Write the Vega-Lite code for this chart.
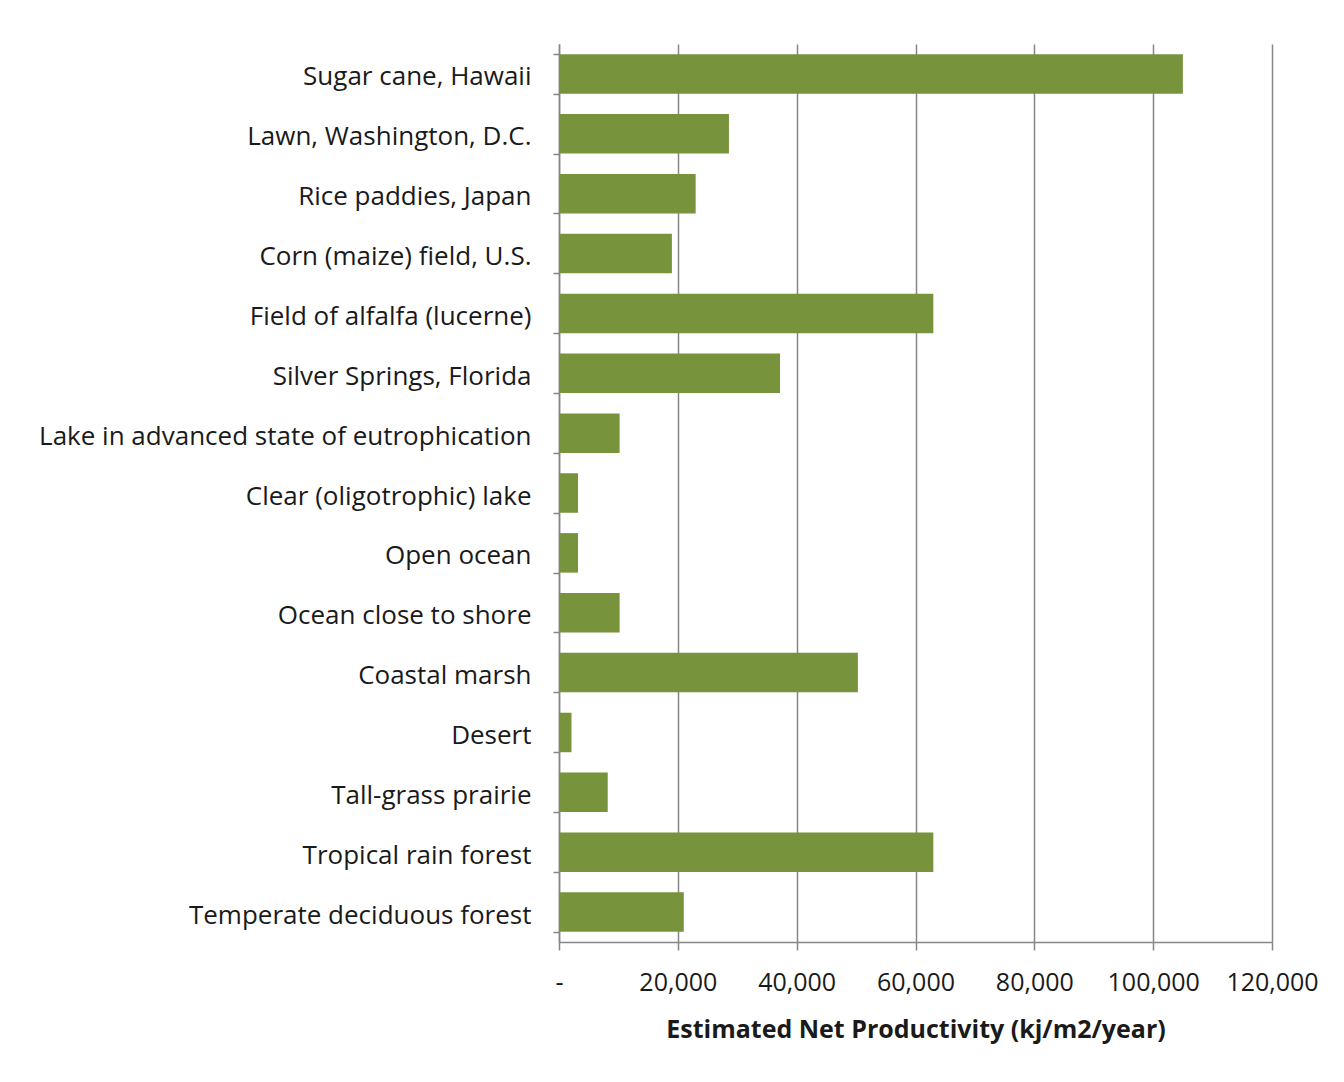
{
  "$schema": "https://vega.github.io/schema/vega-lite/v6.json",
  "width": 713,
  "height": 898,
  "autosize": {"type": "none"},
  "padding": {"left": 559, "top": 44, "right": 72, "bottom": 140},
  "background": "white",
  "config": {
    "view": {"stroke": null},
    "font": "Open Sans"
  },
  "data": {
    "values": [
      {"site": "Sugar cane, Hawaii", "productivity": 105000},
      {"site": "Lawn, Washington, D.C.", "productivity": 28600},
      {"site": "Rice paddies, Japan", "productivity": 23000},
      {"site": "Corn (maize) field, U.S.", "productivity": 19000},
      {"site": "Field of alfalfa (lucerne)", "productivity": 63000},
      {"site": "Silver Springs, Florida", "productivity": 37200},
      {"site": "Lake in advanced state of eutrophication", "productivity": 10200},
      {"site": "Clear (oligotrophic) lake", "productivity": 3200},
      {"site": "Open ocean", "productivity": 3200},
      {"site": "Ocean close to shore", "productivity": 10200},
      {"site": "Coastal marsh", "productivity": 50300},
      {"site": "Desert", "productivity": 2100},
      {"site": "Tall-grass prairie", "productivity": 8200},
      {"site": "Tropical rain forest", "productivity": 63000},
      {"site": "Temperate deciduous forest", "productivity": 21000}
    ]
  },
  "mark": {"type": "bar", "color": "#77933C"},
  "encoding": {
    "y": {
      "field": "site",
      "type": "nominal",
      "sort": null,
      "scale": {"paddingInner": 0.34, "paddingOuter": 0.17},
      "axis": {
        "title": null,
        "domainColor": "#868686",
        "domainWidth": 1.5,
        "tickColor": "#868686",
        "tickWidth": 1.5,
        "tickSize": 6,
        "tickBand": "extent",
        "labelFontSize": 26,
        "labelColor": "#1a1a1a",
        "labelPadding": 22,
        "labelOffset": 3,
        "labelLimit": 600
      }
    },
    "x": {
      "field": "productivity",
      "type": "quantitative",
      "scale": {"domain": [0, 120000], "nice": false},
      "axis": {
        "title": "Estimated Net Productivity (kj/m2/year)",
        "titleFontSize": 25,
        "titleFontWeight": "bold",
        "titleColor": "#1a1a1a",
        "titlePadding": 22,
        "values": [0, 20000, 40000, 60000, 80000, 100000, 120000],
        "labelExpr": "datum.value == 0 ? '-' : format(datum.value, ',')",
        "labelFontSize": 25,
        "labelColor": "#1a1a1a",
        "labelPadding": 20,
        "labelOverlap": false,
        "labelFlush": false,
        "labelBound": false,
        "domainColor": "#868686",
        "domainWidth": 1.5,
        "tickColor": "#868686",
        "tickWidth": 1.5,
        "tickSize": 8,
        "grid": true,
        "gridColor": "#868686",
        "gridWidth": 1.5
      }
    }
  }
}
